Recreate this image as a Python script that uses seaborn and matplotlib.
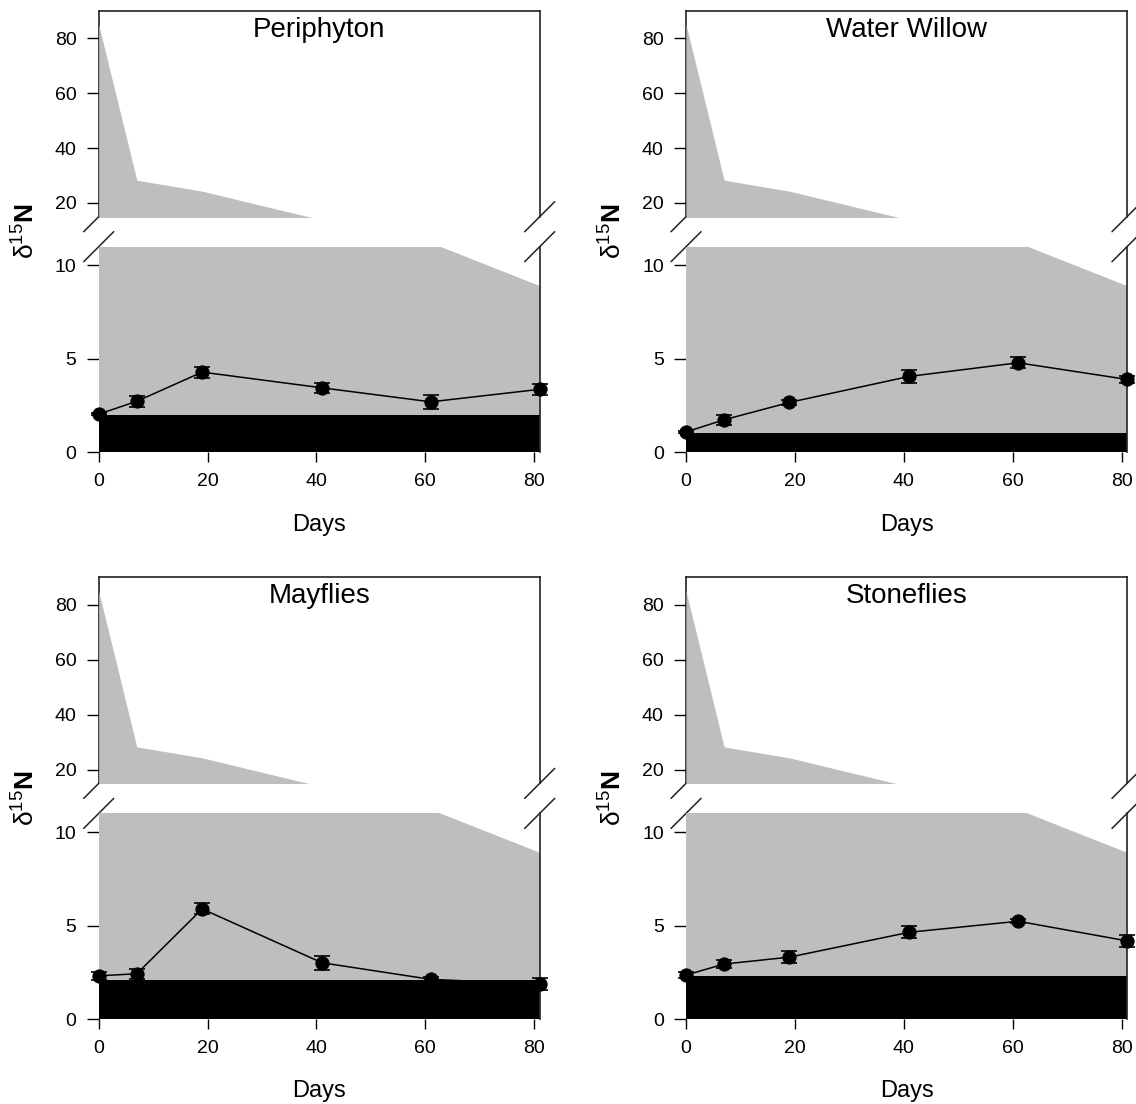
import matplotlib
matplotlib.use("Agg")
import matplotlib.pyplot as plt
import seaborn as sns
import pandas as pd

# ---------------- data ----------------
days = [0, 7, 19, 41, 61, 81]
tracer = [85.0, 28.3, 24.3, 13.8, 11.2, 8.9]          # grey area (tracer level)

titles = ["Periphyton", "Water Willow", "Mayflies", "Stoneflies"]
periphyton_mean = [2.04, 2.73, 4.29, 3.45, 2.70, 3.37]
periphyton_se = [0.06, 0.29, 0.30, 0.26, 0.36, 0.28]
willow_mean = [1.09, 1.74, 2.67, 4.06, 4.79, 3.90]
willow_se = [0.06, 0.28, 0.12, 0.36, 0.29, 0.18]
mayfly_mean = [2.31, 2.42, 5.89, 3.01, 2.12, 1.87]
mayfly_se = [0.20, 0.28, 0.29, 0.38, 0.15, 0.31]
stonefly_mean = [2.35, 2.94, 3.31, 4.64, 5.23, 4.18]
stonefly_se = [0.15, 0.20, 0.34, 0.31, 0.10, 0.32]
baseline = [2.00, 1.03, 2.06, 2.28]                   # black bar (natural abundance)

x_ticks = [0, 20, 40, 60, 80]
upper_ticks = [20, 40, 60, 80]
lower_ticks = [0, 5, 10]

means = [periphyton_mean, willow_mean, mayfly_mean, stonefly_mean]
ses = [periphyton_se, willow_se, mayfly_se, stonefly_se]

# ---------------- style ----------------
sns.set_theme(style="white")
plt.rcParams["font.family"] = ["Liberation Sans", "DejaVu Sans"]
plt.rcParams["mathtext.fontset"] = "custom"
plt.rcParams["mathtext.rm"] = "Liberation Sans"
plt.rcParams["mathtext.bf"] = "Liberation Sans:bold"
plt.rcParams["axes.edgecolor"] = "#222222"
plt.rcParams["text.color"] = "black"
plt.rcParams["axes.labelcolor"] = "black"
plt.rcParams["xtick.color"] = "black"
plt.rcParams["ytick.color"] = "black"

GREY = "#BEBEBE"
W, H = 1136, 1104
fig = plt.figure(figsize=(W / 100, H / 100), dpi=100)

col_x = [98.7, 686.0]
ax_w = 441.0
row_off = [0.0, 566.7]
up_top, up_bot = 10.7, 216.7
lo_top, lo_bot = 246.7, 452.3


def fig_rect(x0, top, bottom):
    return [x0 / W, 1 - bottom / H, ax_w / W, (bottom - top) / H]


for i in range(4):
    c, r = i % 2, i // 2
    x0 = col_x[c]
    off = row_off[r]
    ax_u = fig.add_axes(fig_rect(x0, up_top + off, up_bot + off))
    ax_l = fig.add_axes(fig_rect(x0, lo_top + off, lo_bot + off))

    for ax in (ax_u, ax_l):
        ax.set_facecolor("white")
        ax.fill_between(days, 0, tracer, color=GREY, linewidth=0, zorder=1)
        ax.set_xlim(0, 81)

    # upper axes
    ax_u.set_ylim(15, 90)
    ax_u.set_yticks(upper_ticks)
    ax_u.set_xticks([])
    ax_u.spines["bottom"].set_visible(False)
    ax_u.spines["left"].set_zorder(0.5)
    for s in ("top", "left", "right"):
        ax_u.spines[s].set_linewidth(1.2)
    ax_u.tick_params(axis="y", direction="out", length=9, width=1, pad=7,
                     labelsize=14, left=True, colors="black")
    ax_u.text(0.5, 0.874, titles[i], transform=ax_u.transAxes, ha="center",
              va="baseline", fontsize=20, color="black")

    # lower axes
    ax_l.set_ylim(0, 11)
    ax_l.fill_between([days[0], days[-1]], 0, baseline[i], color="black",
                      linewidth=0, zorder=1.5)
    ax_l.set_yticks(lower_ticks)
    ax_l.set_xticks(x_ticks)
    for s in ("top", "bottom", "left"):
        ax_l.spines[s].set_visible(False)
    ax_l.spines["right"].set_linewidth(1.2)
    ax_l.tick_params(axis="y", direction="out", length=9, width=1, pad=7,
                     labelsize=14, left=True, colors="black")
    ax_l.tick_params(axis="x", direction="out", length=7, width=1, pad=8,
                     labelsize=14, bottom=True, colors="black")

    df = pd.DataFrame({"day": days, "d15N": means[i], "se": ses[i]})
    ax_l.errorbar(df["day"], df["d15N"], yerr=df["se"], fmt="none",
                  ecolor="black", elinewidth=1, capsize=6, capthick=1.2,
                  clip_on=False, zorder=4)
    sns.lineplot(data=df, x="day", y="d15N", ax=ax_l, color="black",
                 linewidth=1.1, marker="o", markersize=9.5,
                 markeredgecolor="black", markerfacecolor="black",
                 clip_on=False, zorder=5, legend=False)
    ax_l.set_xlabel("Days", fontsize=17, labelpad=17, color="black")
    ax_l.set_ylabel("")

    # axis-break marks
    dxu, dyu = 15 / ax_w, 15 / (up_bot - up_top)
    dyl = 15 / (lo_bot - lo_top)
    for xc in (0, 1):
        ax_u.plot([xc - dxu, xc + dxu], [-dyu, dyu], transform=ax_u.transAxes,
                  color="#222222", linewidth=1.1, clip_on=False, zorder=0.8)
        ax_l.plot([xc - dxu, xc + dxu], [1 - dyl, 1 + dyl],
                  transform=ax_l.transAxes, color="#222222", linewidth=1.1,
                  clip_on=False, zorder=0.8)

    # y label
    fig.text((x0 - 73) / W, 1 - (231.7 + off) / H,
             r"$\mathrm{δ^{15}}\mathbf{N}$", rotation=90, ha="center",
             va="center", fontsize=19, color="black")

fig.savefig("out.png", dpi=100)
